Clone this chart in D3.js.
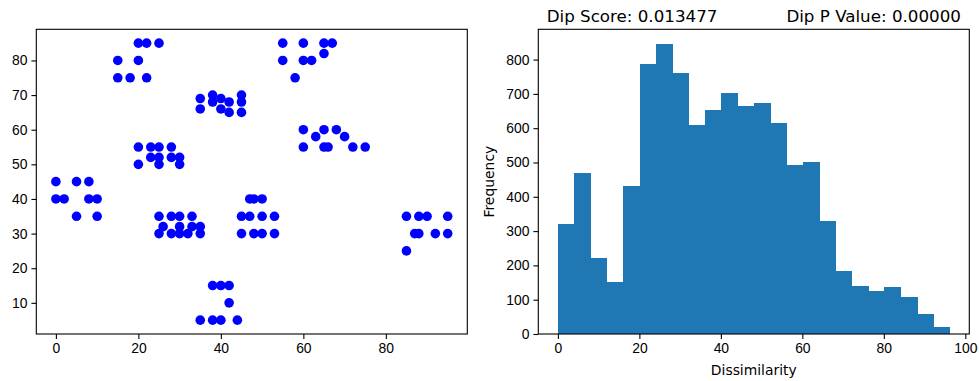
<!DOCTYPE html>
<html>
<head>
<meta charset="utf-8">
<script src="https://d3js.org/d3.v7.min.js"></script>
<style>
  body { margin: 0; background: #fff; }
  svg { display: block; font-family: "DejaVu Sans", sans-serif; }
  .tick text { font-size: 13.9px; fill: #000; }
  .tick line { stroke: #000; stroke-width: 1.1; }
  .domain { display: none; }
  .bar { shape-rendering: crispEdges; }
</style>
</head>
<body>
<svg id="chart" width="979" height="381"></svg>
<script>
// scatter points (left panel)
const pointsX = [20, 22, 25, 15, 20, 15, 18, 22,
  35, 35, 38, 38, 40, 40, 42, 42, 45, 45, 45,
  20, 23, 25, 28, 23, 25, 28, 30, 30, 20, 25,
  0, 5, 8, 0, 2, 8, 10, 5, 10,
  55, 60, 65, 67, 55, 60, 62, 65, 58,
  60, 65, 68, 63, 70, 60, 65, 66, 72, 75,
  25, 28, 30, 33, 26, 30, 33, 35, 25, 28, 30, 32, 35,
  47, 48, 50, 45, 47, 50, 53, 45, 48, 50, 53,
  85, 88, 90, 95, 87, 88, 92, 95, 85,
  38, 40, 42, 42, 35, 38, 40, 44];
const pointsY = [85, 85, 85, 80, 80, 75, 75, 75,
  69, 66, 70, 68, 69, 66, 68, 65, 70, 68, 65,
  55, 55, 55, 55, 52, 52, 52, 52, 50, 50, 50,
  45, 45, 45, 40, 40, 40, 40, 35, 35,
  85, 85, 85, 85, 80, 80, 80, 82, 75,
  60, 60, 60, 58, 58, 55, 55, 55, 55, 55,
  35, 35, 35, 35, 32, 32, 32, 32, 30, 30, 30, 30, 30,
  40, 40, 40, 35, 35, 35, 35, 30, 30, 30, 30,
  35, 35, 35, 35, 30, 30, 30, 30, 25,
  15, 15, 15, 10, 5, 5, 5, 5];

// histogram (right panel)
const histCounts = [321, 470, 221, 152, 432, 788, 846, 762, 609, 654, 704, 666,
  674, 616, 493, 502, 330, 185, 140, 125, 137, 108, 58, 21];
const histMax = 96.17;

const leftXTicks = [0, 20, 40, 60, 80];
const leftYTicks = [10, 20, 30, 40, 50, 60, 70, 80];
const rightXTicks = [0, 20, 40, 60, 80, 100];
const rightYTicks = [0, 100, 200, 300, 400, 500, 600, 700, 800];

const dipScore = "Dip Score: 0.013477";
const dipP = "Dip P Value: 0.00000";

const svg = d3.select("#chart");
const axTop = 29.3, axBottom = 334;

function drawFrame(g, x0, x1) {
  g.append("rect")
    .attr("x", x0).attr("y", axTop)
    .attr("width", x1 - x0).attr("height", axBottom - axTop)
    .attr("fill", "none").attr("stroke", "#000").attr("stroke-width", 1.1);
}

function drawAxes(g, x, y, xt, yt) {
  g.append("g")
    .attr("transform", `translate(0,${axBottom})`)
    .call(d3.axisBottom(x).tickValues(xt).tickSize(4.9).tickPadding(4).tickFormat(d3.format("d")));
  g.append("g")
    .attr("transform", `translate(${x.range()[0]},0)`)
    .call(d3.axisLeft(y).tickValues(yt).tickSize(4.9).tickPadding(4).tickFormat(d3.format("d")));
}

// ---- left: scatter ----
const L0 = 36.3, L1 = 467.3;
const xL = d3.scaleLinear().domain([-4.75, 99.75]).range([L0, L1]);
const yL = d3.scaleLinear().domain([1, 89]).range([axBottom, axTop]);
const left = svg.append("g");

left.selectAll("circle")
  .data(pointsX.map((d, i) => [d, pointsY[i]]))
  .enter()
  .append("circle")
  .attr("cx", d => xL(d[0]))
  .attr("cy", d => yL(d[1]))
  .attr("r", 4.8)
  .attr("fill", "#0000ff");

drawFrame(left, L0, L1);
drawAxes(left, xL, yL, leftXTicks, leftYTicks);

// ---- right: histogram ----
const R0 = 538.3, R1 = 969.3;
const pad = histMax * 0.05;
const xR = d3.scaleLinear().domain([-pad, histMax + pad]).range([R0, R1]);
const yR = d3.scaleLinear().domain([0, d3.max(histCounts) * 1.05]).range([axBottom, axTop]);
const binW = histMax / histCounts.length;
const right = svg.append("g");

right.selectAll("rect.bar")
  .data(histCounts)
  .enter()
  .append("rect")
  .attr("class", "bar")
  .attr("x", (d, i) => xR(i * binW))
  .attr("width", (d, i) => xR((i + 1) * binW) - xR(i * binW) + 0.5)
  .attr("y", d => yR(d))
  .attr("height", d => axBottom - yR(d))
  .attr("fill", "#1f77b4");

drawFrame(right, R0, R1);
drawAxes(right, xR, yR, rightXTicks, rightYTicks);

right.append("text")
  .attr("x", (R0 + R1) / 2).attr("y", 375)
  .attr("text-anchor", "middle")
  .style("font-size", "13.9px")
  .text("Dissimilarity");

right.append("text")
  .attr("transform", `translate(494,${(axTop + axBottom) / 2}) rotate(-90)`)
  .attr("text-anchor", "middle")
  .style("font-size", "13.9px")
  .text("Frequency");

right.append("text")
  .attr("x", R0 + 8.4).attr("y", 22)
  .style("font-size", "16.7px")
  .text(dipScore);

right.append("text")
  .attr("x", R1 - 8.4).attr("y", 22)
  .attr("text-anchor", "end")
  .style("font-size", "16.7px")
  .text(dipP);
</script>
</body>
</html>
